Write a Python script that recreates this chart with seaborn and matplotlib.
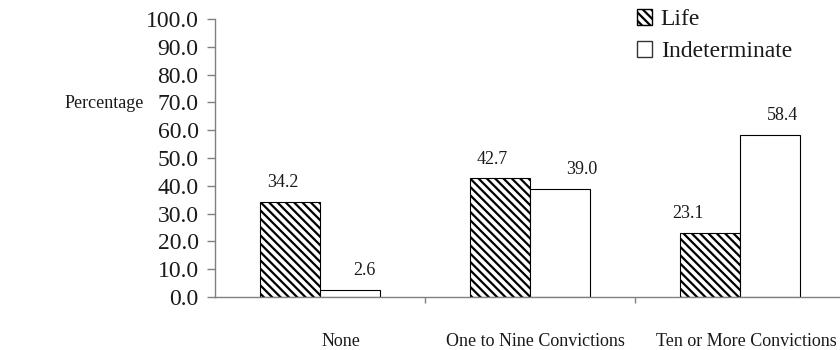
import numpy as np
import pandas as pd
import matplotlib
matplotlib.use("Agg")
import matplotlib.pyplot as plt
import seaborn as sns
from matplotlib.patches import Patch
from matplotlib.ticker import FormatStrFormatter
from matplotlib.transforms import ScaledTranslation

# Sentence type by number of prior convictions (percent of offenders)
categories = ["None", "One to Nine Convictions", "Ten or More Convictions"]
series = ["Life", "Indeterminate"]
life = [34.2, 42.7, 23.1]
indeterminate = [2.6, 39.0, 58.4]
y_ticks = np.arange(0, 101, 10)

SERIF = ["Liberation Serif", "DejaVu Serif"]
sns.set_theme(style="ticks")
plt.rcParams["font.family"] = SERIF
plt.rcParams["hatch.linewidth"] = 1.6
plt.rcParams["text.color"] = "#1a1a1a"
plt.rcParams["xtick.color"] = "#808080"
plt.rcParams["ytick.color"] = "#808080"
plt.rcParams["xtick.labelcolor"] = "#1a1a1a"
plt.rcParams["ytick.labelcolor"] = "#1a1a1a"

df = pd.DataFrame({
    "category": categories * 2,
    "pct": life + indeterminate,
    "series": [series[0]] * len(life) + [series[1]] * len(indeterminate),
})

fig = plt.figure(figsize=(8.4, 3.5), dpi=100)
ax = fig.add_axes([215 / 840, 53 / 350, 630 / 840, 278 / 350])

sns.barplot(data=df, x="category", y="pct", hue="series", order=categories,
            hue_order=series, palette=["white", "white"], saturation=1,
            width=0.57, edgecolor="black", linewidth=0.8, legend=False, ax=ax)

HATCH = "\\\\\\\\"
for bar in ax.containers[0]:
    bar.set_hatch(HATCH)

# value labels, nudged sideways as in the original layout (pixels)
nudges = [[-7, -8, -22], [15, 22, 13]]
for container, dxs in zip(ax.containers, nudges):
    for bar, dx in zip(container, dxs):
        h = bar.get_height()
        ax.annotate(f"{h:.1f}", (bar.get_x() + bar.get_width() / 2, h),
                    xytext=(dx * 0.72, 19 * 0.72), textcoords="offset points",
                    ha="center", va="center", fontsize=13, color="#1a1a1a",
                    family=SERIF)

ax.set_xlim(-0.5, 2.5)
ax.set_ylim(0, 100)
ax.set_yticks(y_ticks)
ax.yaxis.set_major_formatter(FormatStrFormatter("%.1f"))
ax.set_xlabel("")
ax.set_ylabel("")

for side in ["top", "right"]:
    ax.spines[side].set_visible(False)
for side in ["left", "bottom"]:
    ax.spines[side].set_color("#808080")
    ax.spines[side].set_linewidth(1.0)

ax.tick_params(axis="y", direction="out", length=5.8, width=1, pad=6,
               labelsize=17, left=True)
ax.tick_params(axis="x", which="major", length=0, pad=26, labelsize=13)
ax.set_xticks([0.5, 1.5, 2.5], minor=True)
ax.tick_params(axis="x", which="minor", direction="out", length=4.3, width=1,
               bottom=True)

label_nudges = [21, 5, 6]
for lbl, dx in zip(ax.get_xticklabels(), label_nudges):
    lbl.set_transform(lbl.get_transform() +
                      ScaledTranslation(dx / 100, 0, fig.dpi_scale_trans))

fig.text(104 / 840, 1 - 103 / 350, "Percentage", ha="center", va="center",
         fontsize=13, color="#1a1a1a", family=SERIF)

handles = [
    Patch(facecolor="white", edgecolor="black", hatch=HATCH, label=series[0]),
    Patch(facecolor="white", edgecolor="#333333", label=series[1]),
]
fig.legend(handles=handles, loc="upper left",
           bbox_to_anchor=(637 / 840, 1 - 9 / 350), frameon=False,
           prop={"family": SERIF, "size": 17}, handlelength=0.65,
           handleheight=0.65, handletextpad=0.35, labelspacing=0.45,
           borderpad=0, borderaxespad=0)

fig.savefig("out.png", dpi=100)
